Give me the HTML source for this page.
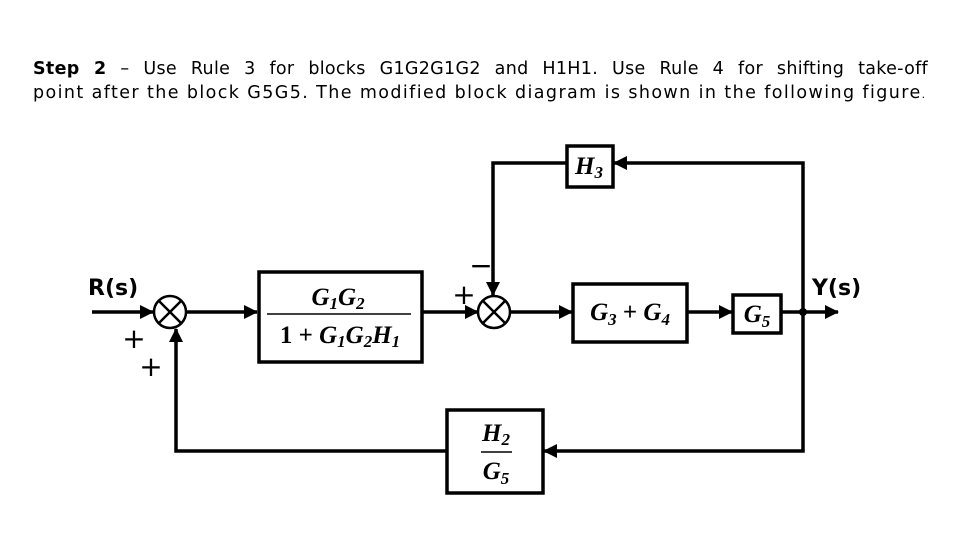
<!DOCTYPE html>
<html><head><meta charset="utf-8"><style>
body{margin:0;width:960px;height:540px;background:#fff;overflow:hidden;position:relative}
.t{position:absolute;left:33px;width:895px;line-height:24px;top:57px;text-align:justify;color:#000;font-family:"DejaVu Sans","Liberation Sans",sans-serif;font-size:17.5px;letter-spacing:1.4px;white-space:nowrap}
svg{position:absolute;left:0;top:0}
</style></head><body>
<div class="t" style="text-align-last:justify;white-space:normal;letter-spacing:0.3px"><b>Step 2</b> – Use Rule 3 for blocks G1G2G1G2 and H1H1. Use Rule 4 for shifting take-off</div>
<div class="t" style="top:81px">point after the block G5G5. The modified block diagram is shown in the following figure<span style="font-size:11px">.</span></div>
<svg width="960" height="540" viewBox="0 0 960 540">
<defs>
<marker id="b" markerWidth="14" markerHeight="14" refX="13" refY="7" orient="auto" markerUnits="userSpaceOnUse"><path d="M0,0 L14,7 L0,14z" fill="#000"/></marker></defs>
<g stroke="#000" stroke-width="3.5" fill="none">
<line x1="92" y1="312" x2="153" y2="312" marker-end="url(#b)"/>
<circle cx="170" cy="312" r="16" stroke-width="2.5"/>
<line x1="159" y1="301" x2="181" y2="323" stroke-width="2.5"/><line x1="181" y1="301" x2="159" y2="323" stroke-width="2.5"/>
<line x1="186" y1="312" x2="257" y2="312" marker-end="url(#b)"/>
<rect x="259" y="272" width="163" height="90"/>
<line x1="422" y1="312" x2="478" y2="312" marker-end="url(#b)"/>
<circle cx="494" cy="312" r="16" stroke-width="2.5"/>
<line x1="483" y1="301" x2="505" y2="323" stroke-width="2.5"/><line x1="505" y1="301" x2="483" y2="323" stroke-width="2.5"/>
<line x1="510" y1="312" x2="572" y2="312" marker-end="url(#b)"/>
<rect x="573" y="284" width="114" height="58"/>
<line x1="687" y1="312" x2="732" y2="312" marker-end="url(#b)"/>
<rect x="733" y="295" width="48" height="38"/>
<line x1="781" y1="312" x2="838" y2="312" marker-end="url(#b)"/>
<polyline points="803,312 803,163 614,163" marker-end="url(#b)"/>
<rect x="567" y="146" width="46" height="41"/>
<polyline points="567,163 493,163 493,295" marker-end="url(#b)"/>
<polyline points="803,312 803,451 544,451" marker-end="url(#b)"/>
<rect x="447" y="410" width="96" height="83"/>
<polyline points="447,451 176,451 176,329" marker-end="url(#b)"/>
</g>
<circle cx="803" cy="312" r="4" fill="#000"/>
<line x1="267" y1="314" x2="411" y2="314" stroke="#000" stroke-width="1.5"/>
<line x1="481" y1="452" x2="512" y2="452" stroke="#000" stroke-width="1.5"/>
<g font-family="Liberation Serif,serif" font-style="italic" font-weight="bold" font-size="25" text-anchor="middle">
<text x="338" y="305">G<tspan font-size="17" dy="4">1</tspan><tspan dy="-4">G</tspan><tspan font-size="17" dy="4">2</tspan></text>
<text x="340" y="343"><tspan font-style="normal">1 + </tspan>G<tspan font-size="17" dy="4">1</tspan><tspan dy="-4">G</tspan><tspan font-size="17" dy="4">2</tspan><tspan dy="-4">H</tspan><tspan font-size="17" dy="4">1</tspan></text>
<text x="630" y="320">G<tspan font-size="17" dy="5">3</tspan><tspan dy="-5" font-style="normal"> + </tspan>G<tspan font-size="17" dy="5">4</tspan></text>
<text x="757" y="322">G<tspan font-size="17" dy="5">5</tspan></text>
<text x="589" y="174">H<tspan font-size="17" dy="4">3</tspan></text>
<text x="496" y="441">H<tspan font-size="17" dy="4">2</tspan></text>
<text x="496" y="479">G<tspan font-size="17" dy="5">5</tspan></text>
</g>
<g font-family="DejaVu Sans,sans-serif" font-weight="bold" font-size="22">
<text x="88" y="295">R(s)</text>
<text x="812" y="295">Y(s)</text>
</g>
<g font-family="DejaVu Sans,sans-serif" font-size="28" text-anchor="middle">
<text x="134" y="348">+</text>
<text x="151" y="376">+</text>
<text x="464" y="304">+</text>
<text x="481" y="275">−</text>
</g>
</svg>
</body></html>
